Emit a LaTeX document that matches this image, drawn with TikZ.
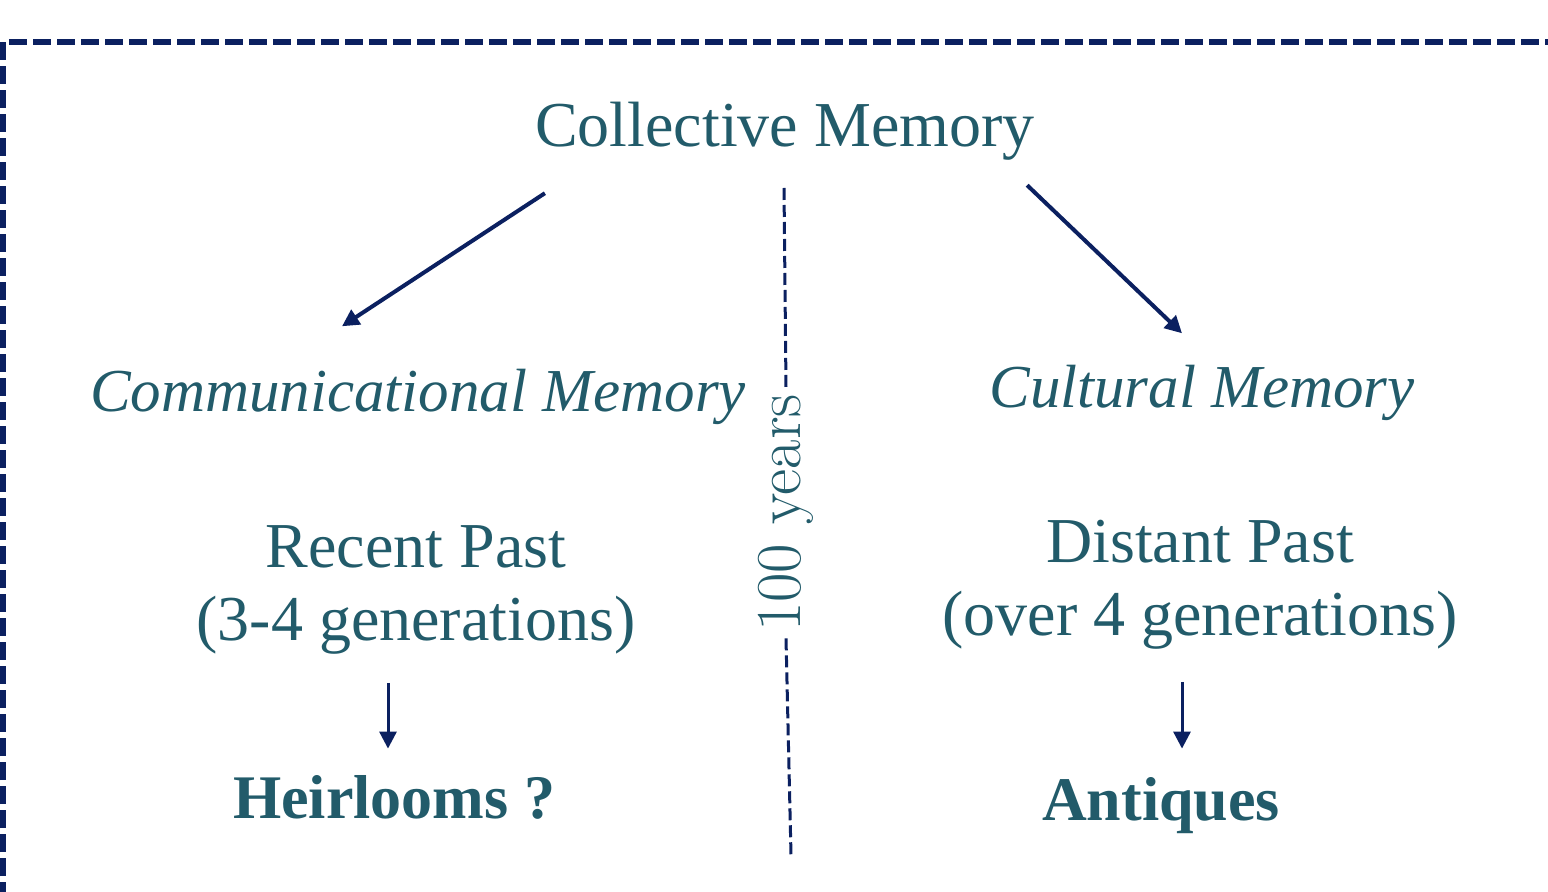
\documentclass[tikz,border=0pt]{standalone}
\usepackage{fontspec}
\usepackage{tikz}
\usetikzlibrary{arrows.meta}
\newfontfamily\memfont{Liberation Serif}
\definecolor{memteal}{HTML}{225B6A}
\definecolor{memnavy}{HTML}{0B2060}

\begin{document}
\begin{tikzpicture}[x=0.5pt,y=-0.5pt,
    memtext/.style={text=memteal,inner sep=0pt,font=\memfont\fontsize{32}{36.5}\selectfont},
    memital/.style={memtext,font=\memfont\itshape\fontsize{30.5}{36}\selectfont},
    membold/.style={memtext,font=\memfont\bfseries\fontsize{31}{36}\selectfont},
    arr/.style={memnavy,line width=2pt,-{Triangle[length=8.5pt,width=8.5pt]}},
    divider/.style={memnavy,line width=1.5pt,dash pattern=on 6pt off 2.5pt}]
    \useasboundingbox (0,0) rectangle (1548,892);
    \clip (0,0) rectangle (1548,892);
    %Dashed frame, running off the page
    \draw[memnavy,line width=2.8pt,dash pattern=on 9pt off 3pt] (3,900) -- (3,42) -- (1560,42);

    \node[memtext,anchor=base] (coll) at (785,147) {Collective Memory};
    \node[memital,anchor=base] (comm) at (418,412) {Communicational Memory};
    \node[memital,anchor=base] (cult) at (1202,408) {Cultural Memory};
    \node[memtext,align=center] (recent) at (416,590) {Recent Past\\(3-4 generations)};
    \node[memtext,align=center] (distant) at (1200,585) {Distant Past\\(over 4 generations)};
    \node[membold,anchor=base] (heir) at (394,818) {Heirlooms ?};
    \node[membold,anchor=base] (antiq) at (1161,820) {Antiques};

    \draw[arr] ([shift={(10,32)}]coll.south west) -- ([shift={(-76,-43)}]comm.north);
    \draw[arr] ([shift={(-8,24)}]coll.south east) -- ([shift={(-20,-32)}]cult.north);
    \draw[arr,line width=1.5pt] ([shift={(-28,28)}]recent.south) -- ([shift={(-6,-26)}]heir.north);
    \draw[arr,line width=1.5pt] ([shift={(-18,32)}]distant.south) -- ([shift={(21,-28)}]antiq.north);

    %The 100 year line
    \node[text=memteal,rotate=90,inner sep=3pt,font=\fontsize{32}{33}\selectfont] (years) at (786,513) {100 years};
    \coordinate (divtop) at (784,188);
    \coordinate (divbot) at (791,855);
    \draw[divider] (divtop) -- (years.east);
    \draw[divider] (years.west) -- (divbot);
\end{tikzpicture}
\end{document}
